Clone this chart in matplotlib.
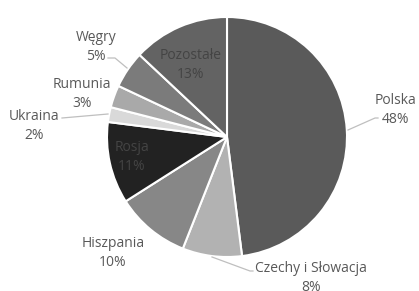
import matplotlib
matplotlib.use("Agg")
import matplotlib.pyplot as plt

categories = ["Polska", "Czechy i Słowacja", "Hiszpania", "Rosja", "Ukraina", "Rumunia", "Węgry", "Pozostałe"]
values = [48, 8, 10, 11, 2, 3, 5, 13]
colors = ["#5a5a5a", "#b2b2b2", "#878787", "#222222", "#d9d9d9", "#a9a9a9", "#7b7b7b", "#636363"]

W, H = 419, 291
cx, cy, R = 227, 137, 120

fig = plt.figure(figsize=(W / 100, H / 100), dpi=100)
ax = fig.add_axes([(cx - R) / W, (H - cy - R) / H, 2 * R / W, 2 * R / H])
ax.pie(values, colors=colors, startangle=90, counterclock=False,
       wedgeprops=dict(edgecolor="white", linewidth=1.5))
ax.set_xlim(-1, 1)
ax.set_ylim(-1, 1)
ax.set_aspect("equal")
ax.axis("off")

def d(px, py):
    return ((px - cx) / R, (cy - py) / R)

# label positions in pixel coordinates (centre of two-line label)
label_px = {
    "Polska": (395, 110),
    "Czechy i Słowacja": (311, 278),
    "Hiszpania": (113, 253),
    "Rosja": (132, 157),
    "Ukraina": (34, 126),
    "Rumunia": (82, 94),
    "Węgry": (96, 47),
    "Pozostałe": (191, 65),
}
inside = {"Rosja", "Pozostałe"}
leaders = {
    "Polska": [(348, 130), (375, 118), (378, 118)],
    "Czechy i Słowacja": [(212, 257), (250, 271), (253, 271)],
    "Węgry": [(127, 68), (115, 58), (108, 58)],
    "Ukraina": [(108, 114), (62, 118)],
}

for name, v in zip(categories, values):
    x, y = d(*label_px[name])
    col = "#444444" if name in inside else "#595959"
    ax.text(x, y, f"{name}\n{v}%", ha="center", va="center", fontsize=10,
            family="Open Sans", color=col, linespacing=1.35, clip_on=False)

for name, pts in leaders.items():
    xs = [d(*p)[0] for p in pts]
    ys = [d(*p)[1] for p in pts]
    ax.plot(xs, ys, color="#bfbfbf", lw=0.9, clip_on=False)

fig.savefig("out.png", dpi=100, facecolor="white")
